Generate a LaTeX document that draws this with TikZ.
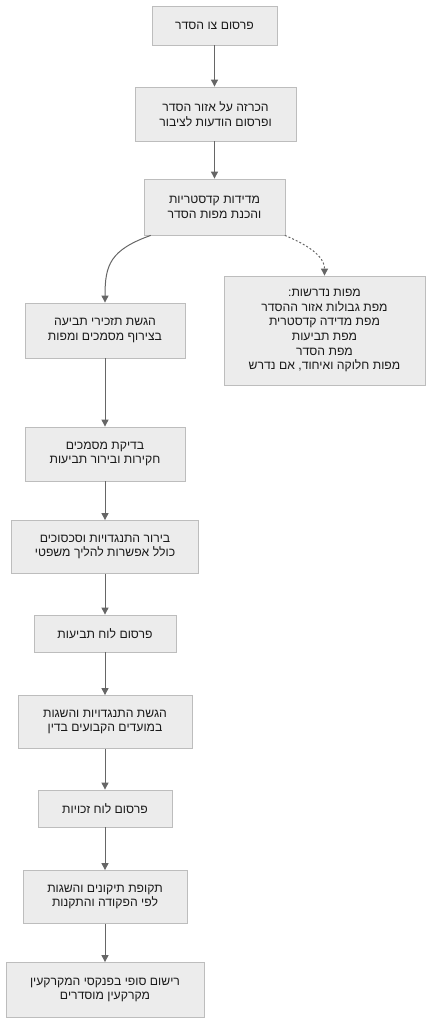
\documentclass[tikz,border=0pt]{standalone}
\usepackage{fontspec}
\usepackage{tikz}
\usetikzlibrary{arrows.meta}
\TeXXeTstate=1
\newfontfamily\hebfont[Script=Hebrew]{Liberation Sans}
\newcommand{\heb}[1]{\beginR #1\endR}
\definecolor{boxfill}{HTML}{ECECEC}
\definecolor{boxline}{HTML}{BDBDBD}
\definecolor{linkgray}{HTML}{666666}
\definecolor{txtgray}{HTML}{1A1A1A}
\tikzset{box/.style={draw=boxline, fill=boxfill, line width=0.8pt, align=center,
    inner sep=0pt, text=txtgray, font=\hebfont\fontsize{12.2}{14.7}\selectfont},
  link/.style={draw=linkgray, line width=1pt, -{Triangle[length=7pt,width=7pt]}}}

\begin{document}
\begin{tikzpicture}[x=1pt, y=-1pt]
  \useasboundingbox (0, 0) rectangle (431, 1024);

  \node[box, minimum width=125, minimum height=39] at (214.5, 25.5) (publish)
    {\heb{פרסום צו הסדר}};
  \node[box, minimum width=161, minimum height=54] at (215.5, 114) (announce)
    {\heb{הכרזה על אזור הסדר}\\\heb{ופרסום הודעות לציבור}};
  \node[box, minimum width=141, minimum height=56] at (214.5, 207) (survey)
    {\heb{מדידות קדסטריות}\\\heb{והכנת מפות הסדר}};
  \node[box, minimum width=201, minimum height=109] at (324.5, 330.5) (maps)
    {\heb{מפות נדרשות:}\\\heb{מפת גבולות אזור ההסדר}\\\heb{מפת מדידה קדסטרית}\\
     \heb{מפת תביעות}\\\heb{מפת הסדר}\\\heb{מפות חלוקה ואיחוד, אם נדרש}};

  \node[box, minimum width=160, minimum height=55] at (105, 330.5) (claims)
    {\heb{הגשת תזכירי תביעה}\\\heb{בצירוף מסמכים ומפות}};
  \node[box, minimum width=160, minimum height=54] at (105, 454) (review)
    {\heb{בדיקת מסמכים}\\\heb{חקירות ובירור תביעות}};
  \node[box, minimum width=187, minimum height=53] at (105, 547) (resolve)
    {\heb{בירור התנגדויות וסכסוכים}\\\heb{כולל אפשרות להליך משפטי}};
  \node[box, minimum width=142, minimum height=37] at (105, 633.5) (claimlist)
    {\heb{פרסום לוח תביעות}};
  \node[box, minimum width=174, minimum height=53] at (105, 722) (objections)
    {\heb{הגשת התנגדויות והשגות}\\\heb{במועדים הקבועים בדין}};
  \node[box, minimum width=134, minimum height=37] at (105, 808.5) (rights)
    {\heb{פרסום לוח זכויות}};
  \node[box, minimum width=164, minimum height=53] at (105, 897) (corrections)
    {\heb{תקופת תיקונים והשגות}\\\heb{לפי הפקודה והתקנות}};
  \node[box, minimum width=198, minimum height=55] at (105, 990) (register)
    {\heb{רישום סופי בפנקסי המקרקעין}\\\heb{מקרקעין מוסדרים}};

  % main line
  \draw[link] (publish.south) -- (publish.south |- announce.north);
  \draw[link] (announce.south -| survey.south) -- (survey.north);
  \draw[link] (survey.204) .. controls (110, 250) and (105, 265) .. (claims.north);
  \draw[link, dash pattern=on 2pt off 2pt] (survey.338)
    .. controls (320, 250) and (324.5, 262) .. (maps.north);
  \draw[link] (claims) -- (review);
  \draw[link] (review) -- (resolve);
  \draw[link] (resolve) -- (claimlist);
  \draw[link] (claimlist) -- (objections);
  \draw[link] (objections) -- (rights);
  \draw[link] (rights) -- (corrections);
  \draw[link] (corrections) -- (register);
\end{tikzpicture}
\end{document}
